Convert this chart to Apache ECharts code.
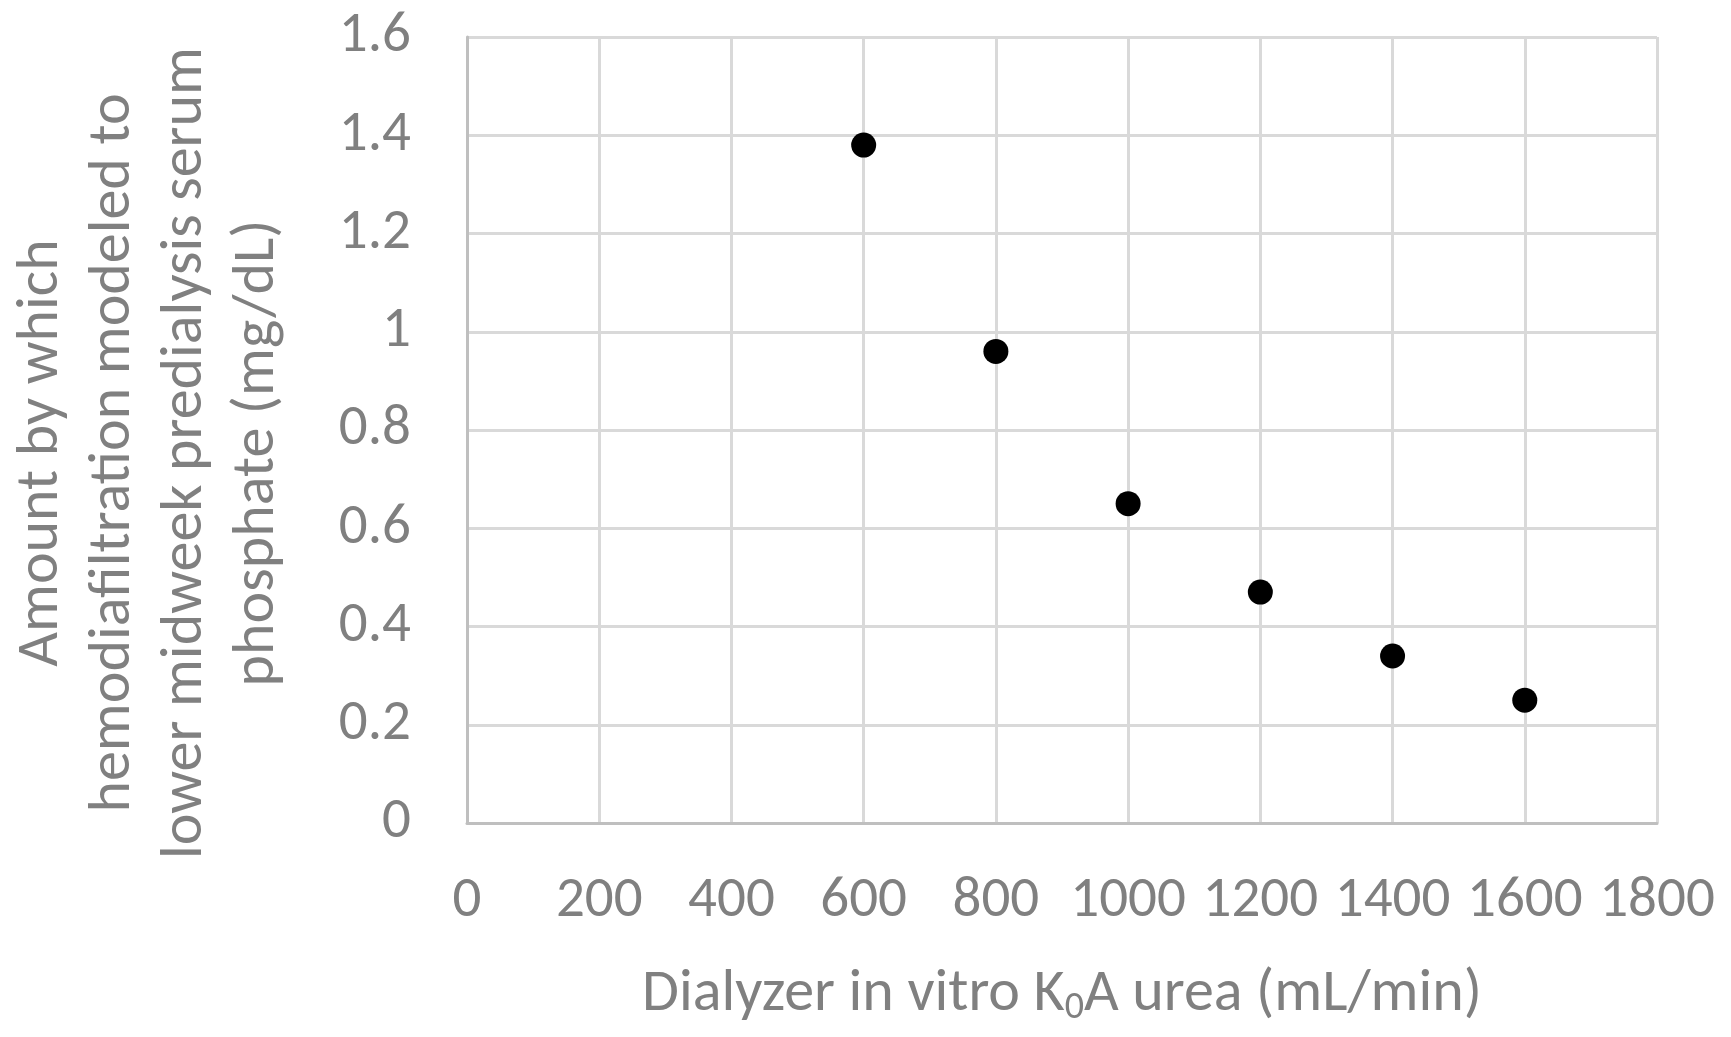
<!DOCTYPE html>
<html>
<head>
<meta charset="utf-8">
<script src="https://cdn.jsdelivr.net/npm/echarts@6/dist/echarts.min.js"></script>
<style>
  html, body { margin: 0; padding: 0; background: #fff; }
  #chart { width: 1731px; height: 1037px; }
</style>
</head>
<body>
<div id="chart"></div>
<script>
// dialyzer KoA urea (mL/min)
var koaValues = [600, 800, 1000, 1200, 1400, 1600];
// reduction in midweek predialysis phosphate (mg/dL)
var phosphateDrop = [1.38, 0.96, 0.65, 0.47, 0.34, 0.25];

var xTitle = 'Dialyzer in vitro K{sub|0}A urea (mL/min)';
var yTitleLines = [
  'Amount by which',
  'hemodiafiltration modeled to',
  'lower midweek predialysis serum',
  'phosphate (mg/dL)'
];

var FONT = 'Carlito, "Liberation Sans Narrow", "Open Sans", sans-serif';
var TEXT_COLOR = '#808080';
var GRID_COLOR = '#d9d9d9';
var TICK_SIZE = 57;
var TITLE_SIZE = 60;

var points = koaValues.map(function(k, i) {
  return [k, phosphateDrop[i]];
});

var myChart = echarts.init(document.getElementById('chart'));

var option = {
  animation: false,
  backgroundColor: '#fff',
  grid: {
    left: 467,
    right: 74,
    top: 37,
    bottom: 214
  },
  xAxis: {
    type: 'value',
    min: 0,
    max: 1800,
    interval: 200,
    name: xTitle,
    nameLocation: 'middle',
    nameGap: 140,
    nameTextStyle: {
      fontFamily: FONT,
      fontSize: TITLE_SIZE,
      color: TEXT_COLOR,
      rich: {
        sub: {
          fontFamily: FONT,
          fontSize: 38,
          color: TEXT_COLOR,
          verticalAlign: 'bottom',
          padding: [26, 0, 0, 0]
        }
      }
    },
    axisLine: { show: true, lineStyle: { color: '#bfbfbf', width: 3 } },
    axisTick: { show: false },
    axisLabel: {
      margin: 50,
      fontFamily: FONT,
      fontSize: TICK_SIZE,
      color: TEXT_COLOR,
      formatter: function(v) {
        return String(v);
      }
    },
    splitLine: { show: true, lineStyle: { color: GRID_COLOR, width: 3 } }
  },
  yAxis: {
    type: 'value',
    min: 0,
    max: 1.6,
    interval: 0.2,
    axisLine: { show: true, lineStyle: { color: '#bfbfbf', width: 3 } },
    axisTick: { show: false },
    axisLabel: {
      margin: 56,
      fontFamily: FONT,
      fontSize: TICK_SIZE,
      color: TEXT_COLOR,
      formatter: function(v) {
        return String(Math.round(v * 10) / 10);
      }
    },
    splitLine: { show: true, lineStyle: { color: GRID_COLOR, width: 3 } }
  },
  graphic: [{
    type: 'text',
    x: 150,
    y: 453,
    rotation: Math.PI / 2,
    style: {
      text: yTitleLines.join('\n'),
      fontFamily: FONT,
      fontSize: TITLE_SIZE,
      lineHeight: 72,
      fill: TEXT_COLOR,
      align: 'center',
      verticalAlign: 'middle'
    }
  }],
  series: [{
    type: 'scatter',
    data: points,
    symbol: 'circle',
    symbolSize: 25,
    itemStyle: { color: '#000', opacity: 1 }
  }]
};

myChart.setOption(option);
</script>
</body>
</html>
